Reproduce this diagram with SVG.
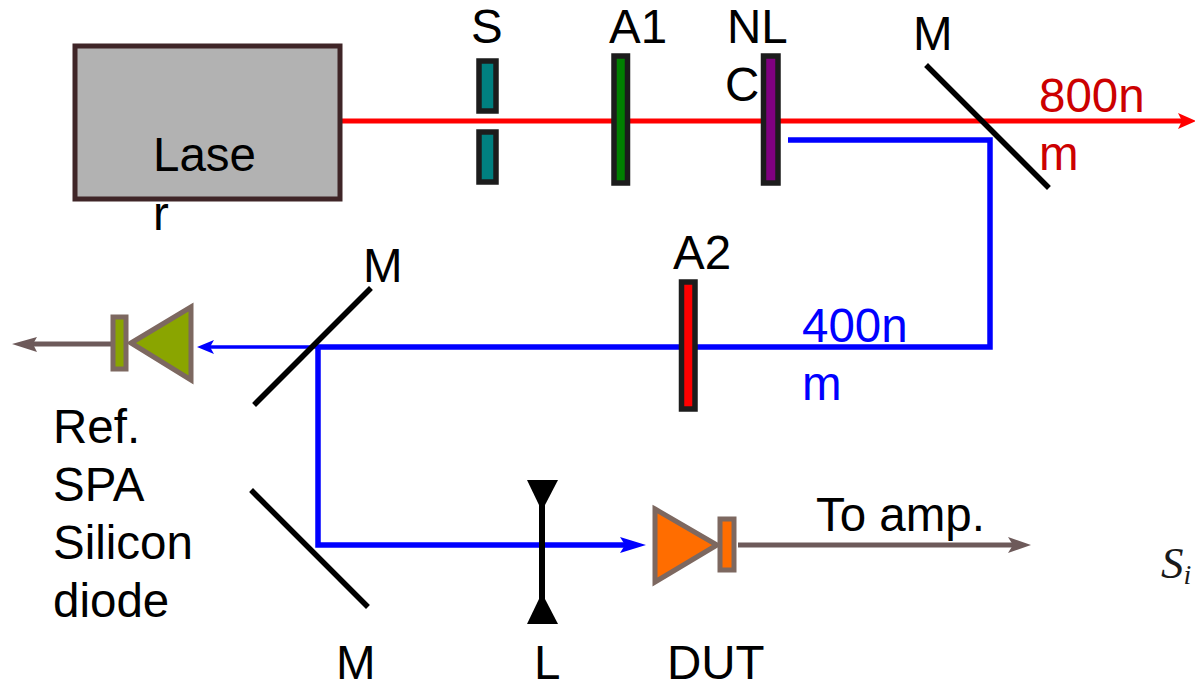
<svg xmlns="http://www.w3.org/2000/svg" width="1195" height="683" viewBox="0 0 1195 683">
<style>
text{font-family:"Liberation Sans",Arial,sans-serif;font-size:47.5px;fill:#000}
.red{fill:#cc0000}.blue{fill:#0000ff}
.ln{fill:none;stroke-linecap:butt}
.r{stroke:#ff0000;stroke-width:5}
.b{stroke:#0000ff;stroke-width:5.5}
.g{stroke:#6d5a5a;stroke-width:5}
.m{stroke:#000;stroke-width:5.5;stroke-linecap:square}
.opt{stroke:#1c1c1c;stroke-width:5.5}
.dio{stroke:#7d6860;stroke-width:5}
</style>
<rect width="1195" height="683" fill="#fff"/>
<g id="connectors">
<path class="ln r" d="M340 121H1182"/>
<path d="M1196 121L1178 113L1182 121L1178 129Z" fill="#ff0000"/>
<path class="ln b" d="M788 140H990V347H318V545H630"/>
<path class="ln" stroke="#0000ff" stroke-width="3.5" d="M318 347H210"/>
<path d="M197 347L214 340L210 347L214 354Z" fill="#0000ff"/>
<path d="M646 545L620 537L625 545L620 553Z" fill="#0000ff"/>
<path class="ln g" d="M738 545H1015"/>
<path d="M1031 545L1008 537L1013 545L1008 553Z" fill="#6d5a5a"/>
<path class="ln g" d="M112 344H30"/>
<path d="M12 344L37 337L33 344L37 352Z" fill="#6d5a5a"/>
</g>
<g id="laser"><rect x="75" y="46" width="265" height="153" fill="#b2b2b2" stroke="#3f2527" stroke-width="5"/>
<text x="153" y="171">Lase</text><text x="153" y="230">r</text></g>
<g id="shutter"><rect x="479" y="61" width="17" height="50" fill="#008080" class="opt"/><rect x="479" y="132" width="17" height="50" fill="#008080" class="opt"/>
<text x="471" y="43">S</text></g>
<g id="a1"><rect x="614" y="56" width="13.500" height="127" fill="#008000" class="opt"/><text x="609" y="43">A1</text></g>
<g id="nlc"><rect x="763.500" y="56" width="14.500" height="127" fill="#800080" class="opt"/><text x="727" y="43">NL</text><text x="725" y="101">C</text></g>
<g id="mirror1"><path class="ln m" d="M928 67L1047 186"/><text x="913" y="50">M</text></g>
<g id="a2"><rect x="681.500" y="282" width="13.500" height="127" fill="#ff0000" class="opt"/><text x="673" y="269">A2</text></g>
<g id="mirror2"><path class="ln m" d="M369 290L256 403"/><text x="363" y="282">M</text></g>
<g id="mirror3"><path class="ln m" d="M253 492L366 605"/><text x="336" y="679">M</text></g>
<g id="ref-diode"><rect x="113" y="317" width="13" height="52" fill="#8aa500" class="dio"/><path d="M131 343L191 307V380Z" fill="#8aa500" class="dio"/>
<text x="53" y="443">Ref.</text><text x="53" y="501">SPA</text><text x="53" y="559">Silicon</text><text x="53" y="617">diode</text></g>
<g id="lens"><path class="ln" stroke="#000" stroke-width="6" d="M542 500V605"/><path d="M527 480H558L545 505H539Z" fill="#000"/><path d="M527 624H558L545 599H539Z" fill="#000"/><text x="534" y="679">L</text></g>
<g id="dut"><path d="M655 509L717 545L655 582Z" fill="#ff6d00" class="dio"/><rect x="720" y="519" width="14" height="51" fill="#ff6d00" class="dio"/><text x="667" y="679">DUT</text></g>
<g id="labels">
<text class="red" x="1039" y="112">800n</text><text class="red" x="1039" y="170">m</text>
<text class="blue" x="802" y="342">400n</text><text class="blue" x="802" y="400">m</text>
<text x="816" y="531">To amp.</text>
<text x="1161" y="578" style="font-family:'Liberation Serif',serif;font-style:italic;font-size:45px;fill:#1a1a1a">S<tspan dy="6" font-size="28">i</tspan></text>
</g>
</svg>
